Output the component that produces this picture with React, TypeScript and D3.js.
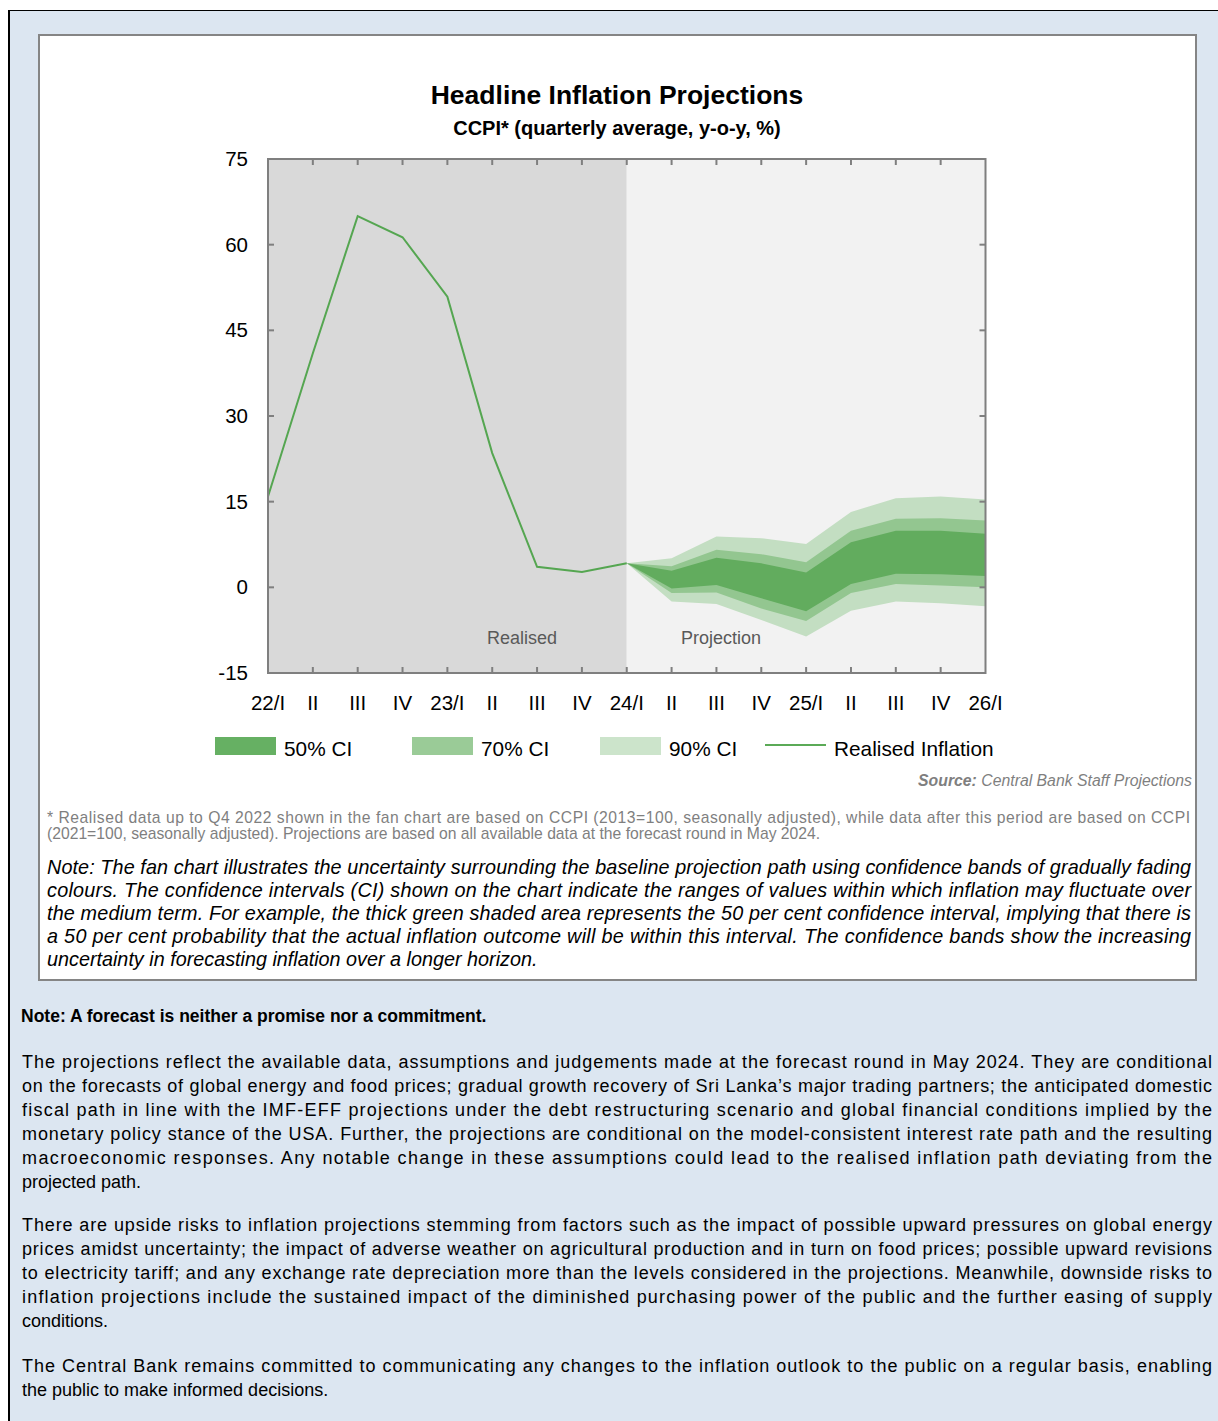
import React from 'react';
import * as d3 from 'd3';

const quarters: string[] = ['22/I', 'II', 'III', 'IV', '23/I', 'II', 'III', 'IV', '24/I', 'II', 'III', 'IV', '25/I', 'II', 'III', 'IV', '26/I'];
const yTicks: number[] = [-15, 0, 15, 30, 45, 60, 75];

// realised CCPI inflation, 22/I .. 24/I
const realised: number[] = [15.9, 41.0, 65.0, 61.3, 50.9, 23.5, 3.6, 2.7, 4.2];

// fan bands, 24/I .. 26/I
const ci90Upper: number[] = [4.2, 5.1, 8.9, 8.6, 7.6, 13.2, 15.6, 15.9, 15.4];
const ci70Upper: number[] = [4.2, 3.7, 6.6, 5.8, 4.4, 9.9, 12.0, 12.1, 11.7];
const ci50Upper: number[] = [4.2, 2.9, 5.2, 4.2, 2.6, 7.9, 9.9, 9.9, 9.4];
const ci50Lower: number[] = [4.2, -0.2, 0.4, -1.9, -4.2, 0.6, 2.4, 2.3, 2.0];
const ci70Lower: number[] = [4.2, -1.0, -0.9, -3.7, -5.9, -1.0, 0.6, 0.3, 0.0];
const ci90Lower: number[] = [4.2, -2.5, -2.9, -5.7, -8.6, -4.1, -2.5, -2.8, -3.3];

const legendItems = [
  { label: '50% CI', color: '#66B063', kind: 'box' },
  { label: '70% CI', color: '#9ACB97', kind: 'box' },
  { label: '90% CI', color: '#CCE4CB', kind: 'box' },
  { label: 'Realised Inflation', color: '#5BAA57', kind: 'line' },
];

const footLines: string[] = [
  '* Realised data up to Q4 2022 shown in the fan chart are based on CCPI (2013=100, seasonally adjusted), while data after this period are based on CCPI',
  '(2021=100, seasonally adjusted). Projections are based on all available data at the forecast round in May 2024.',
];

const noteLines: string[] = [
  'Note: The fan chart illustrates the uncertainty surrounding the baseline projection path using confidence bands of gradually fading',
  'colours. The confidence intervals (CI) shown on the chart indicate the ranges of values within which inflation may fluctuate over',
  'the medium term. For example, the thick green shaded area represents the 50 per cent confidence interval, implying that there is',
  'a 50 per cent probability that the actual inflation outcome will be within this interval. The confidence bands show the increasing',
  'uncertainty in forecasting inflation over a longer horizon.',
];

const paragraphs: string[][] = [
  [
    'The projections reflect the available data, assumptions and judgements made at the forecast round in May 2024. They are conditional',
    'on the forecasts of global energy and food prices; gradual growth recovery of Sri Lanka\u2019s major trading partners; the anticipated domestic',
    'fiscal path in line with the IMF-EFF projections under the debt restructuring scenario and global financial conditions implied by the',
    'monetary policy stance of the USA. Further, the projections are conditional on the model-consistent interest rate path and the resulting',
    'macroeconomic responses. Any notable change in these assumptions could lead to the realised inflation path deviating from the',
    'projected path.',
  ],
  [
    'There are upside risks to inflation projections stemming from factors such as the impact of possible upward pressures on global energy',
    'prices amidst uncertainty; the impact of adverse weather on agricultural production and in turn on food prices; possible upward revisions',
    'to electricity tariff; and any exchange rate depreciation more than the levels considered in the projections. Meanwhile, downside risks to',
    'inflation projections include the sustained impact of the diminished purchasing power of the public and the further easing of supply',
    'conditions.',
  ],
  [
    'The Central Bank remains committed to communicating any changes to the inflation outlook to the public on a regular basis, enabling',
    'the public to make informed decisions.',
  ],
];

const FONT = '"Liberation Sans", Arial, sans-serif';

// a justified block: every line but the last is stretched to the full width
const Block: React.FC<{
  lines: string[];
  x: number;
  y: number;
  width: number;
  step: number;
  size: number;
  fill: string;
  italic?: boolean;
}> = ({ lines, x, y, width, step, size, fill, italic }) => (
  <g fontSize={size} fill={fill} fontStyle={italic ? 'italic' : undefined}>
    {lines.map((t, i) => (
      <text
        key={i}
        x={x}
        y={y + i * step}
        textLength={i < lines.length - 1 ? width : undefined}
        lengthAdjust="spacing"
      >
        {t}
      </text>
    ))}
  </g>
);

const App: React.FC = () => {
  const W = 1218;
  const H = 1421;
  const left = 268;
  const right = 985.5;
  const top = 159;
  const bottom = 673;

  const x = d3.scaleLinear().domain([0, quarters.length - 1]).range([left, right]);
  const y = d3.scaleLinear().domain([-15, 75]).range([bottom, top]);
  const split = 8; // 24/I

  const line = d3
    .line<number>()
    .x((_, i) => x(i))
    .y((d) => y(d));

  const band = (lo: number[], hi: number[]) =>
    d3
      .area<number>()
      .x((_, i) => x(split + i))
      .y0((_, i) => y(lo[i]))
      .y1((d) => y(d))(hi) as string;

  const ticksX = quarters.map((_, i) => i).slice(1, -1);
  const ticksY = yTicks.slice(1, -1);
  const axisColor = '#7F7F7F';

  return (
    <svg width={W} height={H} style={{ position: 'absolute', left: 0, top: 0 }} fontFamily={FONT}>
      <rect x={0} y={0} width={W} height={H} fill="#fff" />
      <rect x={8} y={10} width={W - 8} height={H - 10} fill="#DCE6F1" />
      <line x1={8} x2={W} y1={10.5} y2={10.5} stroke="#000" strokeWidth={1} />
      <line x1={9} x2={9} y1={10} y2={H} stroke="#000" strokeWidth={2} />

      {/* chart panel */}
      <rect x={39} y={35} width={1157} height={945} fill="#fff" stroke="#858585" strokeWidth={2} />

      <text x={617} y={104} textAnchor="middle" fontSize={26.5} fontWeight="bold" fill="#000">
        Headline Inflation Projections
      </text>
      <text x={617} y={135} textAnchor="middle" fontSize={20} fontWeight="bold" fill="#000">
        CCPI* (quarterly average, y-o-y, %)
      </text>

      {/* plot backgrounds */}
      <rect x={left} y={top} width={x(split) - left} height={bottom - top} fill="#D9D9D9" />
      <rect x={x(split)} y={top} width={right - x(split)} height={bottom - top} fill="#F2F2F2" />

      {/* fan */}
      <path d={band(ci90Lower, ci90Upper)} fill="#C3DEC2" />
      <path d={band(ci70Lower, ci70Upper)} fill="#93C690" />
      <path d={band(ci50Lower, ci50Upper)} fill="#62AC5E" />

      <path d={line(realised) as string} fill="none" stroke="#55A651" strokeWidth={2} />

      <text x={522} y={644} textAnchor="middle" fontSize={18} fill="#595959">Realised</text>
      <text x={721} y={644} textAnchor="middle" fontSize={18} fill="#595959">Projection</text>

      {/* frame and inward ticks */}
      <rect x={left} y={top} width={right - left} height={bottom - top} fill="none" stroke={axisColor} strokeWidth={2} />
      {ticksX.map((i) => (
        <g key={`tx${i}`} stroke={axisColor} strokeWidth={2}>
          <line x1={x(i)} x2={x(i)} y1={top} y2={top + 6} />
          <line x1={x(i)} x2={x(i)} y1={bottom} y2={bottom - 6} />
        </g>
      ))}
      {ticksY.map((v) => (
        <g key={`ty${v}`} stroke={axisColor} strokeWidth={2}>
          <line x1={left} x2={left + 6} y1={y(v)} y2={y(v)} />
          <line x1={right} x2={right - 6} y1={y(v)} y2={y(v)} />
        </g>
      ))}

      {yTicks.map((v) => (
        <text key={`ly${v}`} x={248} y={y(v) + 7} textAnchor="end" fontSize={20.5} fill="#000">
          {v}
        </text>
      ))}
      {quarters.map((q, i) => (
        <text key={`lx${i}`} x={x(i)} y={710} textAnchor="middle" fontSize={20.5} fill="#000">
          {q}
        </text>
      ))}

      {/* legend */}
      {legendItems.map((d, i) => {
        const lx = [215, 412, 600, 765][i];
        return (
          <g key={d.label}>
            {d.kind === 'box' ? (
              <rect x={lx} y={737} width={61} height={18} fill={d.color} />
            ) : (
              <line x1={lx} x2={lx + 61} y1={745} y2={745} stroke={d.color} strokeWidth={2} />
            )}
            <text x={lx + 69} y={756} fontSize={20.8} fill="#000">
              {d.label}
            </text>
          </g>
        );
      })}

      <text x={1192} y={786} textAnchor="end" fontSize={15.8} fontStyle="italic" fill="#7F7F7F">
        <tspan fontWeight="bold">Source:</tspan> Central Bank Staff Projections
      </text>

      <Block lines={footLines} x={47} y={823} width={1143} step={16} size={15.7} fill="#7F7F7F" />
      <Block lines={noteLines} x={47} y={874} width={1144} step={23} size={19.8} fill="#000" italic />

      <text x={21} y={1022} fontSize={17.5} fontWeight="bold" fill="#000">
        Note: A forecast is neither a promise nor a commitment.
      </text>

      {paragraphs.map((p, pi) => (
        <Block
          key={pi}
          lines={p}
          x={22}
          y={[1068, 1231, 1372][pi]}
          width={1190}
          step={24}
          size={18}
          fill="#000"
        />
      ))}
    </svg>
  );
};

export default App;
